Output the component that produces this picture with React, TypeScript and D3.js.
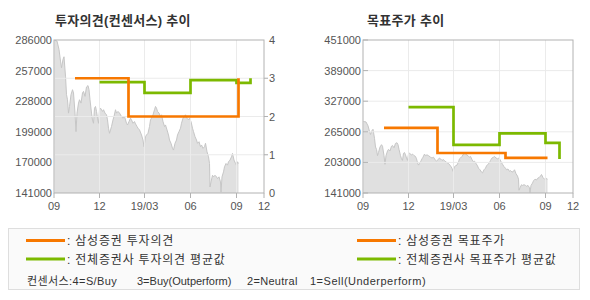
import React from "react";
import * as d3 from "d3";

// ---------- data ----------
const priceDates = [
  "2018-09-02","2018-09-07","2018-09-11","2018-09-14","2018-09-16","2018-09-19","2018-09-21","2018-09-24","2018-09-26","2018-09-28",
  "2018-09-30","2018-10-02","2018-10-05","2018-10-08","2018-10-10","2018-10-13","2018-10-15","2018-10-17","2018-10-20","2018-10-22",
  "2018-10-25","2018-10-28","2018-10-30","2018-11-02","2018-11-05","2018-11-08","2018-11-10","2018-11-12","2018-11-15","2018-11-17",
  "2018-11-19","2018-11-21","2018-11-23","2018-11-25","2018-11-27","2018-11-29","2018-12-01","2018-12-03","2018-12-07","2018-12-09",
  "2018-12-12","2018-12-15","2018-12-17","2018-12-19","2018-12-21","2018-12-23","2018-12-25","2018-12-28","2018-12-30","2019-01-02",
  "2019-01-04","2019-01-07","2019-01-10","2019-01-14","2019-01-17","2019-01-20","2019-01-24","2019-01-26","2019-01-29","2019-02-01",
  "2019-02-03","2019-02-06","2019-02-09","2019-02-11","2019-02-14","2019-02-16","2019-02-19","2019-02-23","2019-02-26","2019-02-28",
  "2019-03-03","2019-03-05","2019-03-08","2019-03-11","2019-03-13","2019-03-15","2019-03-18","2019-03-21","2019-03-23","2019-03-25",
  "2019-03-27","2019-03-30","2019-04-02","2019-04-04","2019-04-07","2019-04-10","2019-04-12","2019-04-15","2019-04-18","2019-04-20",
  "2019-04-23","2019-04-26","2019-04-28","2019-05-01","2019-05-04","2019-05-06","2019-05-09","2019-05-12","2019-05-14","2019-05-17",
  "2019-05-20","2019-05-22","2019-05-25","2019-05-28","2019-05-30","2019-06-02","2019-06-05","2019-06-07","2019-06-10","2019-06-13",
  "2019-06-15","2019-06-18","2019-06-21","2019-06-23","2019-06-26","2019-06-29","2019-07-01","2019-07-04","2019-07-07","2019-07-09",
  "2019-07-10","2019-07-12","2019-07-15","2019-07-17","2019-07-20","2019-07-23","2019-07-25","2019-07-28","2019-07-31","2019-08-01",
  "2019-08-03","2019-08-06","2019-08-08","2019-08-11","2019-08-14","2019-08-16","2019-08-19","2019-08-22","2019-08-24","2019-08-27",
  "2019-08-30","2019-09-01","2019-09-03","2019-09-05",
];
const priceValues = [
  285800,285000,277100,266000,259600,267600,270100,251700,234200,229400,
  216700,223000,234200,238900,235800,216700,199200,216700,226200,229400,
  226200,235800,237300,232600,241500,242800,238900,229400,216700,210300,
  207100,221400,223000,218300,211900,207100,219900,221400,218300,219900,
  216700,215100,210300,202400,197600,200800,204000,210300,213500,219900,
  216700,218300,216700,213500,211900,213500,207100,205500,208700,211900,
  210300,207100,208700,206500,204000,202400,200800,196000,191200,184900,
  194400,196000,197600,204000,210300,211900,215100,219900,223000,221400,
  218300,216700,213500,215100,208700,204000,205500,200800,196000,191200,
  188100,183300,181700,188100,191200,196000,199200,202400,207100,211900,
  213500,215100,211900,210300,211900,208700,202400,199200,194400,191200,
  188100,189600,184900,186500,183300,184900,188100,180100,175300,169000,
  146700,151500,157800,156300,157800,156300,154700,156300,151500,141900,
  156300,161000,165800,169000,167400,170600,172200,175300,178500,172200,
  169000,167400,170600,169000,
];

const samsungOpinionDates = ["2018-10-13", "2019-01-28", "2019-09-05"];
const samsungOpinionValues = [3, 2, 3];
const consensusOpinionDates = ["2018-12-01", "2019-03-01", "2019-06-01", "2019-09-01", "2019-09-29"];
const consensusOpinionValues = [2.9, 2.62, 2.95, 2.88, 3.0];

const samsungTargetDates = ["2018-10-13", "2019-01-28", "2019-06-13", "2019-09-05"];
const samsungTargetValues = [273000, 222000, 212000, 212000];
const consensusTargetDates = ["2018-12-01", "2019-03-01", "2019-06-01", "2019-09-01", "2019-09-29"];
const consensusTargetValues = [315000, 238500, 262000, 242500, 210000];

const priceTicksLeft = [141000, 170000, 199000, 228000, 257000, 286000];
const opinionTicks = [0, 1, 2, 3, 4];
const targetTicks = [141000, 203000, 265000, 327000, 389000, 451000];
const monthTickDates = ["2018-09-01", "2018-12-01", "2019-03-01", "2019-06-01", "2019-09-01"];
const monthTickLabels = ["09", "12", "19/03", "06", "09"];
const endTickLabel = "12";
const xDomainDates = ["2018-09-01", "2019-10-26"];

const titles = ["투자의견(컨센서스) 추이", "목표주가 추이"];
const legendLabels = [": 삼성증권 투자의견", ": 전체증권사 투자의견 평균값", ": 삼성증권 목표주가", ": 전체증권사 목표주가 평균값"];
const noteLabels = ["컨센서스:4=S/Buy", "3=Buy(Outperform)", "2=Neutral", "1=Sell(Underperform)"];

// ---------- styles ----------
const ORANGE = "#f77800";
const GREEN = "#7cb900";
const AXIS = "#b2b2b2";
const GRID = "#ebebeb";
const AREA = "#e0e0e0";
const AREA_LINE = "#c6c6c6";
const TXT = "#555";
const NUMFONT = "'Liberation Sans', Arial, sans-serif";
const KFONT = "'Liberation Sans', 'Noto Sans CJK KR', sans-serif";
const TOP = 40;
const BOTTOM = 193;

const parse = d3.timeParse("%Y-%m-%d");

export default function App() {
  const dates = priceDates.map((d) => parse(d) as Date);
  const xDomain = xDomainDates.map((d) => parse(d) as Date) as [Date, Date];
  const xL = d3.scaleTime().domain(xDomain).range([54, 264]);
  const xR = d3.scaleTime().domain(xDomain).range([363, 573]);
  const yPriceL = d3.scaleLinear().domain([141000, 286000]).range([BOTTOM, TOP]);
  const yOpinion = d3.scaleLinear().domain([0, 4]).range([BOTTOM, TOP]);
  const yPriceR = d3.scaleLinear().domain([141000, 451000]).range([BOTTOM, TOP]);

  const area = (x: any, y: any) =>
    d3.area<number>().x((_, i) => x(dates[i])).y0(BOTTOM).y1((v) => y(v))(priceValues) || "";
  const line = (x: any, y: any) =>
    d3.line<number>().x((_, i) => x(dates[i])).y((v) => y(v))(priceValues) || "";
  const step = (x: any, y: any, ds: string[], vs: number[]) =>
    d3.line<number>().x((_, i) => x(parse(ds[i]))).y((v) => y(v)).curve(d3.curveStepAfter)(vs) || "";

  const monthTicks = monthTickDates.map((d) => parse(d) as Date);

  const xAxis = (x: any, x0: number, x1: number) => (
    <g>
      {monthTicks.map((d, i) => (
        <g key={i}>
          <line x1={x(d)} x2={x(d)} y1={BOTTOM} y2={BOTTOM + 5} stroke={AXIS} />
          <text x={x(d)} y={210} textAnchor="middle" fontSize={11} fontFamily={NUMFONT} fill={TXT}>
            {monthTickLabels[i]}
          </text>
        </g>
      ))}
      <line x1={x1} x2={x1} y1={BOTTOM} y2={BOTTOM + 5} stroke={AXIS} />
      <text x={x1} y={210} textAnchor="middle" fontSize={11} fontFamily={NUMFONT} fill={TXT}>
        {endTickLabel}
      </text>
    </g>
  );

  const vGrid = (x: any) =>
    monthTicks.slice(1).map((d, i) => (
      <line key={i} x1={x(d)} x2={x(d)} y1={TOP} y2={BOTTOM} stroke={GRID} />
    ));

  return (
    <svg width={590} height={300} style={{ position: "absolute", left: 0, top: 0, background: "#fff" }}>
      <defs>
        <clipPath id="clipL"><rect x={54} y={TOP} width={210} height={BOTTOM - TOP} /></clipPath>
        <clipPath id="clipR"><rect x={363} y={TOP} width={210} height={BOTTOM - TOP} /></clipPath>
      </defs>

      {/* ---------- left panel ---------- */}
      <text x={55} y={25} fontSize={13} fontWeight="bold" fontFamily={KFONT} fill="#333" letterSpacing={0.3}>{titles[0]}</text>
      <g clipPath="url(#clipL)">
        <path d={area(xL, yPriceL)} fill={AREA} />
        <path d={line(xL, yPriceL)} fill="none" stroke={AREA_LINE} strokeWidth={1} />
      </g>
      {vGrid(xL)}
      {opinionTicks.slice(1, -1).map((v) => (
        <line key={v} x1={54} x2={268} y1={yOpinion(v)} y2={yOpinion(v)} stroke={GRID} />
      ))}
      {opinionTicks.slice(1, -1).map((v) => (
        <line key={"t" + v} x1={264} x2={268} y1={yOpinion(v)} y2={yOpinion(v)} stroke={AXIS} />
      ))}
      <rect x={54} y={TOP} width={210} height={BOTTOM - TOP} fill="none" stroke={AXIS} />
      {xAxis(xL, 54, 264)}
      {priceTicksLeft.map((v) => (
        <text key={v} x={52} y={yPriceL(v) + 4} textAnchor="end" fontSize={11} fontFamily={NUMFONT} fill={TXT}>{v}</text>
      ))}
      {opinionTicks.map((v) => (
        <text key={v} x={269} y={yOpinion(v) + 4} fontSize={11} fontFamily={NUMFONT} fill={TXT}>{v}</text>
      ))}
      <path d={step(xL, yOpinion, consensusOpinionDates, consensusOpinionValues)} fill="none" stroke={GREEN} strokeWidth={2.7} />
      <path d={step(xL, yOpinion, samsungOpinionDates, samsungOpinionValues)} fill="none" stroke={ORANGE} strokeWidth={2.7} />

      {/* ---------- right panel ---------- */}
      <text x={367} y={25} fontSize={13} fontWeight="bold" fontFamily={KFONT} fill="#333" letterSpacing={0.3}>{titles[1]}</text>
      <g clipPath="url(#clipR)">
        <path d={area(xR, yPriceR)} fill={AREA} />
        <path d={line(xR, yPriceR)} fill="none" stroke={AREA_LINE} strokeWidth={1} />
      </g>
      {vGrid(xR)}
      {targetTicks.slice(1, -1).map((v) => (
        <line key={v} x1={363} x2={573} y1={yPriceR(v)} y2={yPriceR(v)} stroke={GRID} />
      ))}
      {targetTicks.map((v) => (
        <line key={"t" + v} x1={363} x2={368} y1={yPriceR(v)} y2={yPriceR(v)} stroke={AXIS} />
      ))}
      <rect x={363} y={TOP} width={210} height={BOTTOM - TOP} fill="none" stroke={AXIS} />
      {xAxis(xR, 363, 573)}
      {targetTicks.map((v) => (
        <text key={v} x={361} y={yPriceR(v) + 4} textAnchor="end" fontSize={11} fontFamily={NUMFONT} fill={TXT}>{v}</text>
      ))}
      <path d={step(xR, yPriceR, consensusTargetDates, consensusTargetValues)} fill="none" stroke={GREEN} strokeWidth={2.7} />
      <path d={step(xR, yPriceR, samsungTargetDates, samsungTargetValues)} fill="none" stroke={ORANGE} strokeWidth={2.7} />

      {/* ---------- legend ---------- */}
      <rect x={8.5} y={228.5} width={571} height={61} fill="#fafafa" stroke="#dedede" />
      {[0, 1, 2, 3].map((i) => {
        const lx = i < 2 ? 26 : 357;
        const ly = i % 2 === 0 ? 240.5 : 259;
        return (
          <g key={i}>
            <line x1={lx} x2={lx + 39} y1={ly} y2={ly} stroke={i % 2 === 0 ? ORANGE : GREEN} strokeWidth={3} />
            <text x={lx + 41} y={ly + 4.5} fontSize={12} fontFamily={KFONT} fill="#333" letterSpacing={0.8}>{legendLabels[i]}</text>
          </g>
        );
      })}
      {noteLabels.map((t, i) => (
        <text key={i} x={[27, 137, 247, 310][i]} y={285} fontSize={11} fontFamily={KFONT} fill="#333" letterSpacing={[0.4, 0, 0.3, 0.5][i]}>{t}</text>
      ))}
    </svg>
  );
}
